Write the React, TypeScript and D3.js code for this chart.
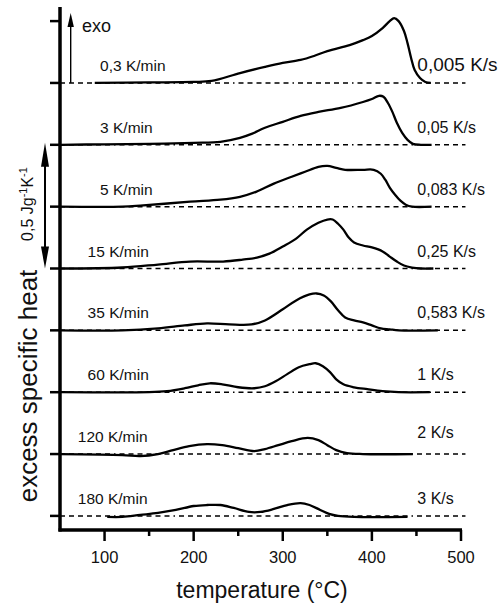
import React from "react";
import * as d3 from "d3";

// Heating rates (left labels) and the equivalent in K/s (right labels)
const ratesMin = ["0,3 K/min", "3 K/min", "5 K/min", "15 K/min", "35 K/min", "60 K/min", "120 K/min", "180 K/min"];
const ratesSec = ["0,005 K/s", "0,05 K/s", "0,083 K/s", "0,25 K/s", "0,583 K/s", "1 K/s", "2 K/s", "3 K/s"];

// Excess specific heat curves: [temperature °C, c_p excess J g^-1 K^-1]
const curve03: [number, number][] = [[89,0],[150,0.002],[200,0.004],[220,0.008],[252,0.040],[280,0.065],[300,0.081],[320,0.093],[335,0.109],[350,0.129],[375,0.153],[390,0.173],[400,0.190],[412,0.222],[420,0.250],[425,0.262],[430,0.250],[436,0.210],[440,0.161],[444,0.101],[448,0.052],[454,0.020],[460,0.004],[466,0]];
const curve3: [number, number][] = [[50,0],[100,0.002],[150,0.004],[200,0.008],[230,0.012],[252,0.028],[265,0.044],[280,0.069],[300,0.093],[320,0.117],[340,0.133],[365,0.149],[390,0.173],[400,0.185],[408,0.198],[413,0.194],[418,0.169],[423,0.133],[428,0.089],[434,0.048],[440,0.020],[446,0.004],[455,0],[467,0]];
const curve5: [number, number][] = [[50,0],[120,0],[140,0.004],[196,0.020],[230,0.028],[252,0.040],[270,0.060],[290,0.093],[310,0.121],[325,0.141],[340,0.161],[350,0.165],[360,0.157],[370,0.149],[390,0.149],[402,0.149],[410,0.133],[415,0.109],[420,0.077],[426,0.048],[432,0.024],[438,0.008],[445,0],[467,0]];
const curve15: [number, number][] = [[50,0],[120,0.004],[160,0.016],[196,0.028],[233,0.028],[255,0.036],[271,0.044],[285,0.060],[300,0.089],[315,0.121],[327,0.157],[340,0.185],[350,0.198],[356,0.198],[362,0.181],[368,0.157],[374,0.125],[380,0.105],[390,0.093],[400,0.085],[412,0.069],[420,0.048],[428,0.028],[436,0.012],[445,0.004],[455,0],[469,0]];
const curve35: [number, number][] = [[50,0],[120,0],[160,0.008],[190,0.020],[215,0.028],[240,0.024],[265,0.024],[280,0.040],[300,0.085],[315,0.121],[330,0.145],[338,0.149],[346,0.141],[354,0.117],[362,0.081],[370,0.052],[380,0.040],[390,0.032],[400,0.020],[410,0.008],[420,0.004],[430,0],[474,0]];
const curve60: [number, number][] = [[50,0],[150,0],[170,0.004],[190,0.016],[205,0.028],[218,0.036],[232,0.032],[250,0.020],[268,0.016],[280,0.024],[292,0.044],[305,0.073],[318,0.101],[330,0.113],[337,0.117],[345,0.105],[353,0.081],[360,0.052],[368,0.032],[380,0.020],[395,0.012],[412,0.004],[430,0],[465,0]];
const curve120: [number, number][] = [[50,0],[120,-0.004],[140,-0.008],[160,0],[177,0.016],[195,0.032],[215,0.040],[232,0.036],[250,0.024],[268,0.012],[280,0.020],[295,0.036],[310,0.052],[328,0.065],[340,0.056],[350,0.036],[360,0.016],[372,0.004],[390,0],[446,0]];
const curve180: [number, number][] = [[103,-0.004],[120,-0.004],[140,0.004],[160,0.012],[180,0.024],[200,0.040],[215,0.044],[230,0.044],[245,0.032],[262,0.016],[275,0.016],[290,0.028],[305,0.044],[320,0.052],[330,0.044],[342,0.024],[352,0.008],[362,0],[380,-0.004],[440,-0.004]];

const curves = [curve03, curve3, curve5, curve15, curve35, curve60, curve120, curve180];

const xMajorTicks = [100, 200, 300, 400, 500];
const xMinorTicks = [150, 250, 350, 450];
const offsetStep = 0.25; // vertical shift between curves, J g^-1 K^-1
const yTicks = d3.range(0, 2.0001, offsetStep);

const FONT = "'Liberation Sans', Arial, Helvetica, sans-serif";
const dashPattern = "5,4,5,4,5,4,5,4,5,4,5,4,1.5,4";

export default function App() {
  const x = d3.scaleLinear().domain([50, 500]).range([60, 461]);
  const y = d3.scaleLinear().domain([-0.057, 2.057]).range([530, 7]);
  const n = curves.length;
  const offset = (i: number) => (n - 1 - i) * offsetStep;

  const lineGen = (off: number) =>
    d3
      .line<[number, number]>()
      .x((d) => x(d[0]))
      .y((d) => y(d[1] + off))
      .curve(d3.curveCatmullRom.alpha(0.5));

  const leftLabelT = (i: number) => (i < 3 ? 95 : i < 6 ? 81 : 70);

  const exoX = x(62);
  const barX = 45;
  const barTop = y(offset(1));
  const barBot = y(offset(3));

  return (
    <svg
      width={502}
      height={610}
      style={{ position: "absolute", left: 0, top: 0, background: "#fff" }}
      fontFamily={FONT}
    >
      {/* dashed baselines */}
      {curves.map((_, i) => (
        <line
          key={"b" + i}
          x1={x(50)}
          x2={x(505)}
          y1={y(offset(i))}
          y2={y(offset(i))}
          stroke="#000"
          strokeWidth={1.5}
          strokeDasharray={dashPattern}
        />
      ))}
      {/* curves */}
      {curves.map((c, i) => (
        <path
          key={"c" + i}
          d={lineGen(offset(i))(c) || ""}
          fill="none"
          stroke="#000"
          strokeWidth={2.3}
          strokeLinejoin="round"
        />
      ))}
      {/* left and right labels */}
      {ratesMin.map((t, i) => (
        <text key={"l" + i} x={x(leftLabelT(i))} y={y(offset(i)) - 12} fontSize={15.5} fill="#111">
          {t}
        </text>
      ))}
      {ratesSec.map((t, i) => (
        <text
          key={"r" + i}
          x={x(451)}
          y={y(offset(i)) - (i === 6 ? 16 : 12)}
          fontSize={i === 0 ? 19 : 16}
          fill="#111"
        >
          {t}
        </text>
      ))}
      {/* axes */}
      <line x1={x(50)} x2={x(50)} y1={7} y2={531.5} stroke="#000" strokeWidth={3.5} />
      <line x1={x(50) - 1.5} x2={x(500) + 1} y1={530} y2={530} stroke="#000" strokeWidth={3.5} />
      {yTicks.map((v) => (
        <line key={"yt" + v} x1={x(50) - 10} x2={x(50)} y1={y(v)} y2={y(v)} stroke="#000" strokeWidth={2.5} />
      ))}
      {xMajorTicks.map((v) => (
        <g key={"xt" + v}>
          <line x1={x(v)} x2={x(v)} y1={530} y2={541} stroke="#000" strokeWidth={2.5} />
          <text x={x(v)} y={563} fontSize={16.5} textAnchor="middle" fill="#111">
            {v}
          </text>
        </g>
      ))}
      {xMinorTicks.map((v) => (
        <line key={"xm" + v} x1={x(v)} x2={x(v)} y1={530} y2={536} stroke="#000" strokeWidth={2.5} />
      ))}
      {/* exo arrow */}
      <line x1={exoX} x2={exoX} y1={y(offset(0))} y2={24} stroke="#000" strokeWidth={1.4} />
      <path d={`M${exoX},13 L${exoX - 3.2},27 L${exoX + 3.2},27 Z`} fill="#000" />
      <text x={82} y={32} fontSize={18} fill="#111">exo</text>
      {/* scale bar */}
      <line x1={barX} x2={barX} y1={barTop + 18} y2={barBot - 18} stroke="#000" strokeWidth={2} />
      <path d={`M${barX},${barTop - 2} L${barX - 4},${barTop + 22} L${barX + 4},${barTop + 22} Z`} fill="#000" />
      <path d={`M${barX},${barBot} L${barX - 4},${barBot - 22} L${barX + 4},${barBot - 22} Z`} fill="#000" />
      <text transform={`translate(33,204) rotate(-90)`} textAnchor="middle" fontSize={16} fill="#111">
        0,5 Jg
        <tspan dy={-6} fontSize={11}>-1</tspan>
        <tspan dy={6}>K</tspan>
        <tspan dy={-6} fontSize={11}>-1</tspan>
      </text>
      {/* axis titles */}
      <text transform={`translate(37,386) rotate(-90)`} textAnchor="middle" fontSize={26} fill="#111">
        excess specific heat
      </text>
      <text x={262} y={598} textAnchor="middle" fontSize={23} fill="#111">
        temperature (°C)
      </text>
    </svg>
  );
}
